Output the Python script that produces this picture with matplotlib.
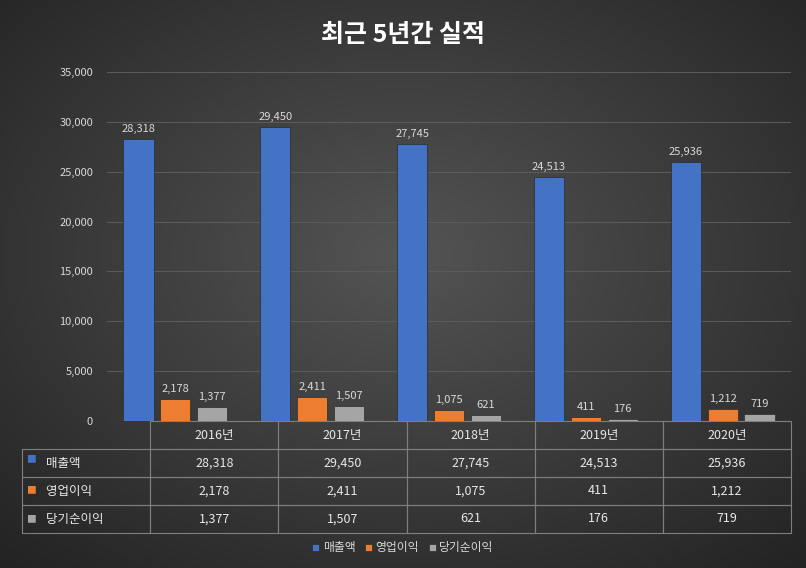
import matplotlib.pyplot as plt
import numpy as np

plt.rcParams['font.family'] = ['Noto Sans CJK KR', 'DejaVu Sans']

years = ['2016년', '2017년', '2018년', '2019년', '2020년']
series_names = ['매출액', '영업이익', '당기순이익']
sales = [28318, 29450, 27745, 24513, 25936]
op_profit = [2178, 2411, 1075, 411, 1212]
net_profit = [1377, 1507, 621, 176, 719]
colors = ['#4472C4', '#ED7D31', '#A5A5A5']

W, H = 806, 568
fig = plt.figure(figsize=(W / 100, H / 100), dpi=100)

# radial dark gradient background in its own axes behind everything
yy, xx = np.mgrid[0:H, 0:W]
r = np.sqrt(((xx - W / 2) / (W * 0.65)) ** 2 + ((yy - H * 0.45) / (H * 0.65)) ** 2)
v = np.clip(0.33 - 0.17 * r, 0.14, 0.33)
bgax = fig.add_axes([0, 0, 1, 1], zorder=-10)
bgax.imshow(np.dstack([v, v, v]), aspect='auto', extent=[0, 1, 0, 1])
bgax.axis('off')

ax = fig.add_axes([107 / W, 1 - 421 / H, 684 / W, 349 / H], zorder=1)
ax.set_facecolor('none')
x = np.arange(len(years))
bw = 0.22
offs = [-0.27, 0, 0.27]
for vals, c, o, name in zip([sales, op_profit, net_profit], colors, offs, series_names):
    ax.bar(x + o, vals, bw, color=c, edgecolor='#2b2b2b', linewidth=0.5, label=name, zorder=3)
    for xi, val in zip(x + o, vals):
        ax.text(xi, val + 500, f'{val:,}', ha='center', va='bottom', color='#d9d9d9', fontsize=8)

ax.set_xlim(-0.5, 4.5)
ax.set_ylim(0, 35000)
ax.set_yticks(np.arange(0, 35001, 5000))
ax.set_yticklabels([f'{t:,}' for t in range(0, 35001, 5000)], color='#d9d9d9', fontsize=8)
ax.set_xticks([])
ax.grid(axis='y', color='#5a5a5a', linewidth=0.8, zorder=0)
for s in ax.spines.values():
    s.set_visible(False)
ax.tick_params(axis='y', length=0, pad=10)

# data table
lab_w = 85 / 684
rows = [['', *years]]
for name, vals in zip(series_names, [sales, op_profit, net_profit]):
    rows.append(['    ' + name, *[f'{v:,}' for v in vals]])
tab = ax.table(cellText=rows, bbox=[-lab_w, -112 / 349, 1 + lab_w, 112 / 349], cellLoc='center')
tab.auto_set_font_size(False)
tab.set_fontsize(9)
row_h = [23, 31, 30, 28]
for (ri, ci), cell in tab.get_celld().items():
    cell.set_facecolor('none')
    cell.set_edgecolor('#7f7f7f')
    cell.set_linewidth(0.8)
    cell.get_text().set_color('#e8e8e8')
    if ci == 0:
        cell.get_text().set_ha('left')
        cell._loc = 'left'
    if ri == 0 and ci == 0:
        cell.set_edgecolor('none')

y0 = -23 / 349
for i, c in enumerate(colors):
    yc = y0 - (sum(row_h[1:i + 1]) + row_h[i + 1] / 2) / 349
    ax.text(-lab_w + 4 / 684, yc, '■', color=c, fontsize=7, va='center', ha='left',
            transform=ax.transAxes)

fig.text(0.5, 1 - 35 / H, '최근 5년간 실적', ha='center', va='center', color='white',
         fontsize=18, fontweight='bold')

handles, labels = ax.get_legend_handles_labels()
leg = fig.legend(handles, labels, loc='center', bbox_to_anchor=(0.5, 1 - 548 / H), ncol=3,
                 frameon=False, fontsize=8.5, handlelength=0.6, handleheight=0.6,
                 columnspacing=0.8, handletextpad=0.3)
for t in leg.get_texts():
    t.set_color('#d9d9d9')

fig.savefig('out.png', dpi=100)
